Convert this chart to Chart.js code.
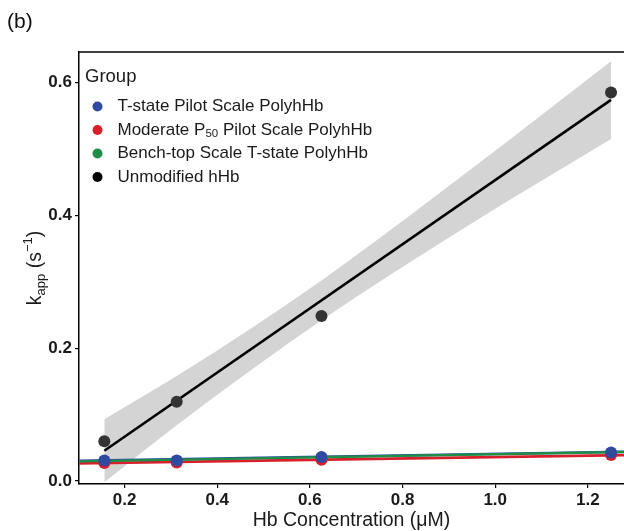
<!DOCTYPE html>
<html>
<head>
<meta charset="utf-8">
<script src="https://cdn.jsdelivr.net/npm/chart.js@4.4.1/dist/chart.umd.min.js"></script>
<style>
  html, body { margin: 0; padding: 0; background: #fff; overflow: hidden; }
  #wrap { width: 624px; height: 531px; position: relative; overflow: hidden; }
  #c { display: block; }
</style>
</head>
<body>
<div id="wrap"><canvas id="c" width="630" height="531"></canvas></div>
<script>
// ---- data ----
const concX = [0.15625, 0.3125, 0.625, 1.25];            // Hb concentration (µM)
const tStatePilot   = [0.031, 0.031, 0.036, 0.043];       // blue points
const moderateP50   = [0.027, 0.028, 0.032, 0.039];       // red points
const benchTop      = [0.029, 0.030, 0.034, 0.041];       // green points
const unmodifiedHb  = [0.060, 0.1195, 0.2486, 0.585];     // black points

// fitted lines (end values)
const blackFitX = [0.15625, 1.25];
const blackFitY = [0.0455, 0.574];
const bandX     = [0.15625, 0.3125, 0.625, 0.9375, 1.25];
const bandUpper = [0.093, 0.158, 0.302, 0.464, 0.632];
const bandLower = [-0.002, 0.084, 0.242, 0.383, 0.515];
const colFitX   = [0.1016, 1.278];
const blueFitY  = [0.0306, 0.0441];
const redFitY   = [0.0266, 0.0390];
const greenFitY = [0.0296, 0.0436];

const xTicks = [0.2, 0.4, 0.6, 0.8, 1.0, 1.2];
const yTicks = [0.0, 0.2, 0.4, 0.6];

const groups = ['T-state Pilot Scale PolyhHb', 'Moderate P50 Pilot Scale PolyhHb',
                'Bench-top Scale T-state PolyhHb', 'Unmodified hHb'];
const colors = ['#2f4aa0', '#d7202b', '#1e8f48', '#000000'];

const pts = (xs, ys) => xs.map((x, i) => ({x: x, y: ys[i]}));
const FONT = '"Liberation Sans", Arial, Helvetica, sans-serif';

const lineDS = (label, xs, ys, color, w, order) => ({
  type: 'line', label, data: pts(xs, ys), borderColor: color, borderWidth: w,
  pointRadius: 0, fill: false, order, tension: 0
});
const ptDS = (label, ys, color, order, r) => ({
  type: 'scatter', label, data: pts(concX, ys), backgroundColor: color,
  borderColor: color, borderWidth: 0, pointRadius: r, pointHoverRadius: r, order
});

const datasets = [
  { type: 'line', label: 'band lower', data: pts(bandX, bandLower), borderWidth: 0,
    borderColor: 'rgba(0,0,0,0)', pointRadius: 0, fill: false, order: 20,
    cubicInterpolationMode: 'monotone' },
  { type: 'line', label: 'band upper', data: pts(bandX, bandUpper), borderWidth: 0,
    borderColor: 'rgba(0,0,0,0)', pointRadius: 0, fill: 0, backgroundColor: '#d4d4d4',
    order: 19, cubicInterpolationMode: 'monotone' },
  lineDS('Unmodified fit', blackFitX, blackFitY, '#000', 2.6, 15),
  lineDS('T-state fit', colFitX, blueFitY, colors[0], 2.6, 14),
  lineDS('Moderate fit', colFitX, redFitY, colors[1], 2.8, 13),
  lineDS('Bench-top fit', colFitX, greenFitY, colors[2], 2.4, 12),
  ptDS(groups[2], benchTop, colors[2], 8, 6),
  ptDS(groups[1], moderateP50, colors[1], 7, 6),
  ptDS(groups[0], tStatePilot, colors[0], 6, 6),
  ptDS(groups[3], unmodifiedHb, '#333333', 5, 6)
];

const deco = {
  id: 'deco',
  afterDraw(chart) {
    const ctx = chart.ctx, a = chart.chartArea;
    ctx.save();
    ctx.strokeStyle = '#000'; ctx.lineWidth = 1.5;
    ctx.beginPath(); ctx.moveTo(a.left, a.top); ctx.lineTo(a.right + 10, a.top); ctx.stroke();
    ctx.fillStyle = '#111'; ctx.font = '21px ' + FONT;
    ctx.textBaseline = 'middle'; ctx.textAlign = 'left';
    ctx.fillText('(b)', 7, 22);
    ctx.fillStyle = '#1a1a1a';
    ctx.font = '18.5px ' + FONT;
    ctx.fillText('Group', 85, 77);
    const rowY = [106.5, 130, 153.5, 177];
    const legCol = [colors[0], colors[1], colors[2], '#000'];
    for (let i = 0; i < 4; i++) {
      ctx.beginPath(); ctx.fillStyle = legCol[i];
      ctx.arc(97.5, rowY[i], 5, 0, Math.PI * 2); ctx.fill();
      ctx.fillStyle = '#1a1a1a';
      if (i === 1) {
        let x = 117.5;
        ctx.font = '17px ' + FONT;
        ctx.fillText('Moderate P', x, rowY[i]); x += ctx.measureText('Moderate P').width;
        ctx.font = '11.5px ' + FONT;
        ctx.fillText('50', x, rowY[i] + 4); x += ctx.measureText('50').width;
        ctx.font = '17px ' + FONT;
        ctx.fillText(' Pilot Scale PolyhHb', x, rowY[i]);
      } else {
        ctx.font = '17px ' + FONT;
        ctx.fillText(groups[i], 117.5, rowY[i]);
      }
    }
    ctx.translate(36, 268); ctx.rotate(-Math.PI / 2);
    const parts = [['k', 19.5, 0], ['app', 13, 5], [' (s', 19.5, 0], ['\u22121', 13, -8], [')', 19.5, 0]];
    let tw = 0;
    parts.forEach(p => { ctx.font = p[1] + 'px ' + FONT; tw += ctx.measureText(p[0]).width; });
    let x = -tw / 2;
    ctx.fillStyle = '#1a1a1a';
    parts.forEach(p => {
      ctx.font = p[1] + 'px ' + FONT;
      ctx.fillText(p[0], x, p[2]);
      x += ctx.measureText(p[0]).width;
    });
    ctx.restore();
  }
};

new Chart(document.getElementById('c'), {
  data: { datasets },
  options: {
    responsive: false, animation: false,
    layout: { padding: { top: 52, right: 0, left: 0, bottom: 0 } },
    plugins: { legend: { display: false }, tooltip: { enabled: false } },
    scales: {
      x: {
        type: 'linear', min: 0.1016, max: 1.278,
        afterBuildTicks: s => { s.ticks = xTicks.map(v => ({ value: v })); },
        afterFit: s => { s.height = 47; s.paddingRight = 0; s.paddingLeft = 0; },
        border: { display: true, color: '#000', width: 1.5 },
        grid: { drawOnChartArea: false, drawTicks: true, tickLength: 4, color: '#000', lineWidth: 1.2 },
        ticks: { font: { family: FONT, size: 17, weight: 'bold' }, color: '#1a1a1a', padding: 2,
                 maxRotation: 0, callback: v => v.toFixed(1) },
        title: { display: true, text: 'Hb Concentration (\u03bcM)', color: '#1a1a1a',
                 font: { family: FONT, size: 19.5, lineHeight: 1 }, padding: { top: 0, bottom: 1 } }
      },
      y: {
        type: 'linear', min: -0.0045, max: 0.646,
        afterBuildTicks: s => { s.ticks = yTicks.map(v => ({ value: v })); },
        afterFit: s => { s.width = 79; s.paddingTop = 0; s.paddingBottom = 0; },
        border: { display: true, color: '#000', width: 1.5 },
        grid: { drawOnChartArea: false, drawTicks: true, tickLength: 4, color: '#000', lineWidth: 1.2 },
        ticks: { font: { family: FONT, size: 17, weight: 'bold' }, color: '#1a1a1a', padding: 3,
                 callback: v => v.toFixed(1) }
      }
    }
  },
  plugins: [deco]
});
</script>
</body>
</html>
